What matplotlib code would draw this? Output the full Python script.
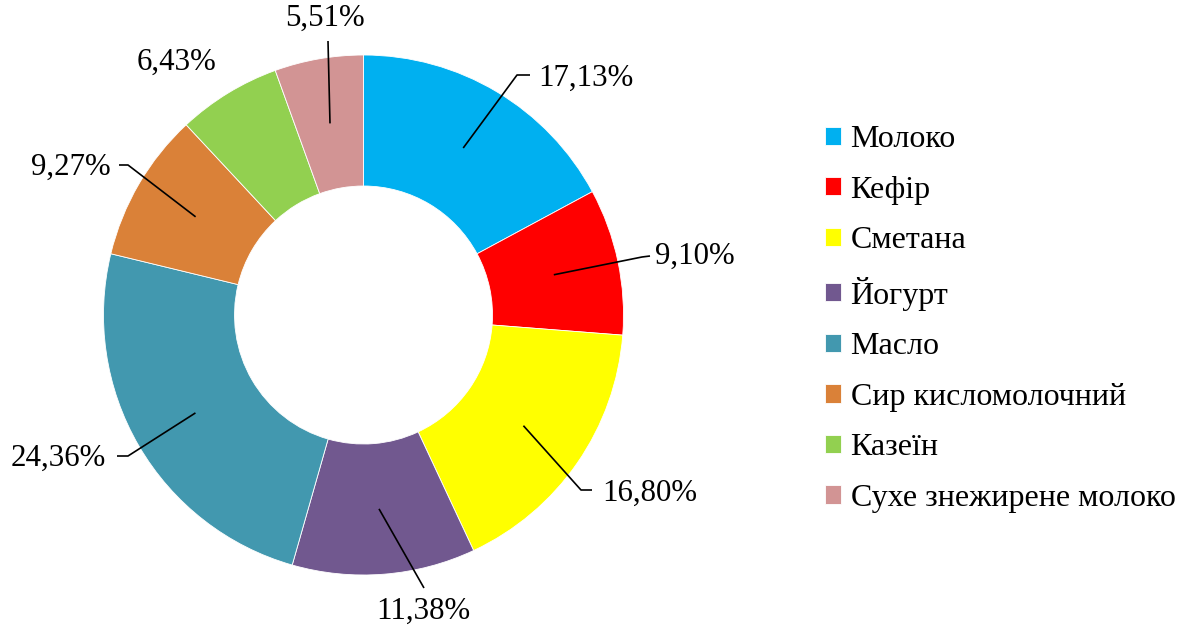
import matplotlib
matplotlib.use("Agg")
import matplotlib.pyplot as plt
import numpy as np

plt.rcParams['font.family'] = ['Liberation Serif', 'DejaVu Serif']

categories = ["Молоко", "Кефір", "Сметана", "Йогурт", "Масло",
              "Сир кисломолочний", "Казеїн", "Сухе знежирене молоко"]
shares = [17.13, 9.10, 16.80, 11.38, 24.36, 9.27, 6.43, 5.51]
colors = ["#00B0F0", "#FF0000", "#FFFF00", "#71588F", "#4298AF",
          "#DA8138", "#92D050", "#D29494"]

W, H = 1188, 629
FS = 22.2
LEG_FS = 23

# label layout in pixel coords (y down): text xy, ha, leader end points (None = no leader)
label_layout = [
    ((538, 78), "left", [(517, 75), (530, 75)]),
    ((655, 256), "left", [(642, 257), (650, 256)]),
    ((602, 493), "left", [(581, 490), (592, 490)]),
    ((423, 611), "center", [(424, 588)]),
    ((106, 458), "right", [(128, 456), (117, 456)]),
    ((111, 167), "right", [(128, 165), (119, 165)]),
    ((177, 62), "center", None),
    ((325, 18), "center", [(328, 41)]),
]


def px(x, y):
    return x, H - y


fig = plt.figure(figsize=(W / 100, H / 100), dpi=100)
ax = fig.add_axes([0, 0, 1, 1])

cx, cy = px(363.5, 315)
R = 260
wedges, _ = ax.pie(shares, colors=colors, startangle=90, counterclock=False,
                   center=(cx, cy), radius=R,
                   wedgeprops=dict(width=131, edgecolor="white", linewidth=0.6))

ax.set_xlim(0, W)
ax.set_ylim(0, H)
ax.set_aspect("auto")
ax.axis("off")

for w, val, (txy, ha, pts) in zip(wedges, shares, label_layout):
    mid = np.deg2rad((w.theta1 + w.theta2) / 2)
    r0 = R - 131 / 2
    sx, sy = cx + r0 * np.cos(mid), cy + r0 * np.sin(mid)
    if pts is not None:
        xs = [sx] + [p[0] for p in pts]
        ys = [sy] + [H - p[1] for p in pts]
        ax.plot(xs, ys, color="black", lw=1.2, solid_capstyle="butt")
    tx, ty = px(*txy)
    ax.text(tx, ty, f"{val:.2f}%".replace(".", ","), ha=ha, va="center",
            fontsize=FS, color="black")

fig.legend(wedges, categories, loc="upper left",
           bbox_to_anchor=(825 / W, 1 - 125 / H), frameon=False,
           fontsize=LEG_FS, handlelength=0.5, handleheight=0.5,
           handletextpad=0.3, labelspacing=0.675, borderpad=0, borderaxespad=0)

fig.savefig("out.png", dpi=100, facecolor="white")
